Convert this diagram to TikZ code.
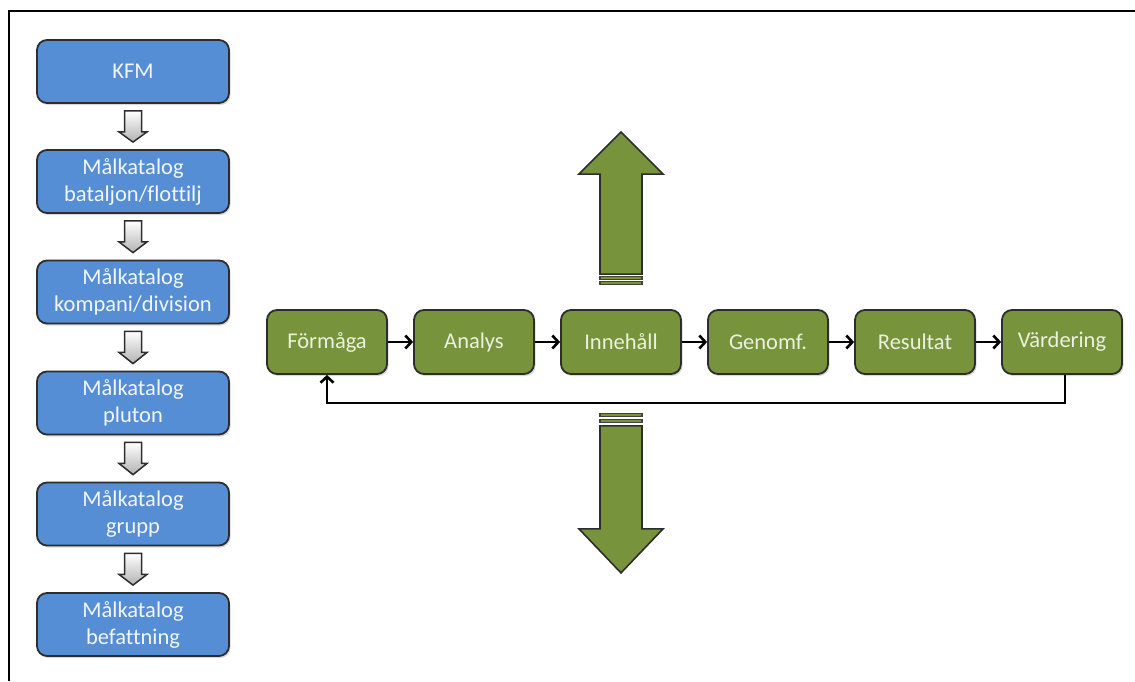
\documentclass[tikz,border=0pt]{standalone}
\usepackage{fontspec}
\setmainfont{Carlito}[Ligatures=NoCommon]
\usetikzlibrary{calc,arrows.meta,shadows}
\definecolor{boxblue}{RGB}{85,142,213}
\definecolor{boxgreen}{RGB}{119,147,60}
\definecolor{edgecol}{RGB}{45,45,45}
\definecolor{gtext}{RGB}{235,241,222}
\definecolor{btext}{RGB}{242,245,250}
\begin{document}
\begin{tikzpicture}[x=1pt,y=-1pt,
  bluebox/.style={draw=edgecol, line width=1.8pt, fill=boxblue, rounded corners=10pt,
    minimum width=192pt, minimum height=63pt, inner sep=0pt, text=btext,
    font=\fontsize{22.5}{27}\selectfont, align=center,
    drop shadow={shadow xshift=1.5pt, shadow yshift=-2pt, opacity=0.3}},
  greenbox/.style={draw=edgecol, line width=1.8pt, fill=boxgreen, rounded corners=10pt,
    minimum width=120pt, minimum height=64pt, inner sep=0pt, text=gtext,
    font=\fontsize{22.5}{27}\selectfont, align=center,
    drop shadow={shadow xshift=1.5pt, shadow yshift=-2pt, opacity=0.3}},
  grayarrow/.style={draw=edgecol, line width=1.5pt, top color=white, bottom color=black!30, line join=miter},
  bigarrow/.style={draw=edgecol, line width=1.6pt, fill=boxgreen, line join=miter},
  stripe/.style={draw=edgecol!90, line width=1.4pt, fill=boxgreen},
  flow/.style={draw=black, line width=2.6pt, -{Straight Barb[length=6pt,width=13pt,line width=2.6pt]}},
  frame/.style={draw=black, line width=2.2pt}
]
\useasboundingbox (0,0) rectangle (1135,681);
\draw[frame] (9,681) -- (9,11) -- (1135,11);

% left column
\node[bluebox] (b1) at (133,71.5) {KFM};
\node[bluebox] (b2) at (133,181.5) {Målkatalog\\bataljon/flottilj};
\node[bluebox] (b3) at (133,292) {Målkatalog\\kompani/division};
\node[bluebox] (b4) at (133,403) {Målkatalog\\pluton};
\node[bluebox] (b5) at (133,514) {Målkatalog\\grupp};
\node[bluebox] (b6) at (133,624.5) {Målkatalog\\befattning};

\foreach \a/\b in {b1/b2,b2/b3,b3/b4,b4/b5,b5/b6}{
  \draw[grayarrow] ($(\a.south)+(-8.5,7)$) -- ($(\a.south)+(8.5,7)$) -- ($(\a.south)+(8.5,28)$)
    -- ($(\a.south)+(14,28)$) -- ($(\b.north)+(0,-7)$) -- ($(\a.south)+(-14,28)$)
    -- ($(\a.south)+(-8.5,28)$) -- cycle;
}

% process row
\node[greenbox] (n1) at (327,342) {Förmåga};
\node[greenbox] (n2) at (474,342) {Analys};
\node[greenbox] (n3) at (621,342) {Innehåll};
\node[greenbox] (n4) at (768,342) {Genomf.};
\node[greenbox] (n5) at (915,342) {Resultat};
\node[greenbox] (n6) at (1062,342) {Värdering};

\foreach \a/\b in {n1/n2,n2/n3,n3/n4,n4/n5,n5/n6}{
  \draw[flow] (\a.east) -- (\b.west);
}
\draw[flow] ($(n6.south)+(3,0)$) -- ++(0,28) -| (n1.south);

% big up arrow
\draw[bigarrow] ($(n3.north)+(-21,-35)$) -- ($(n3.north)+(-21,-135)$) -- ($(n3.north)+(-42,-135)$)
  -- ($(n3.north)+(0,-177)$) -- ($(n3.north)+(42,-135)$) -- ($(n3.north)+(21,-135)$)
  -- ($(n3.north)+(21,-35)$) -- cycle;
\draw[stripe] ($(n3.north)+(-21,-32.5)$) rectangle ($(n3.north)+(21,-29.5)$);
\draw[stripe] ($(n3.north)+(-21,-27.5)$) rectangle ($(n3.north)+(21,-24.5)$);

% big down arrow
\draw[bigarrow] ($(n3.south)+(-21,51)$) -- ($(n3.south)+(-21,154)$) -- ($(n3.south)+(-42,154)$)
  -- ($(n3.south)+(0,198)$) -- ($(n3.south)+(42,154)$) -- ($(n3.south)+(21,154)$)
  -- ($(n3.south)+(21,51)$) -- cycle;
\draw[stripe] ($(n3.south)+(-21,38.5)$) rectangle ($(n3.south)+(21,41.5)$);
\draw[stripe] ($(n3.south)+(-21,44.5)$) rectangle ($(n3.south)+(21,47.5)$);
\end{tikzpicture}
\end{document}
